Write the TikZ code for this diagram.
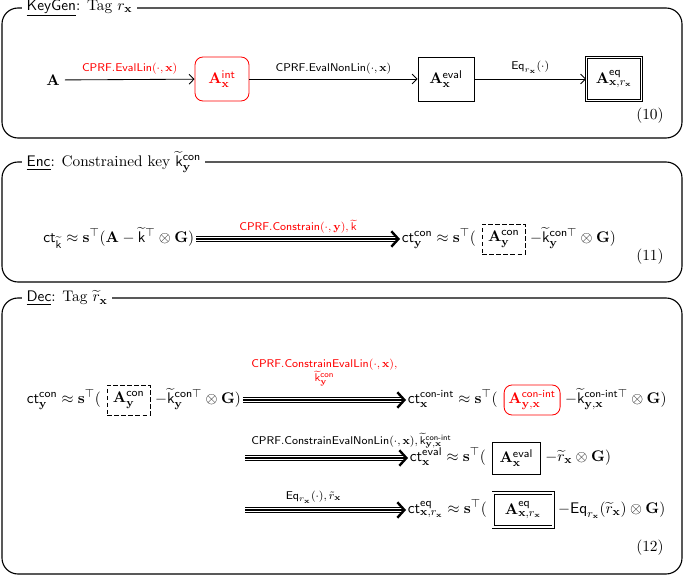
\documentclass[tikz,border=0pt]{standalone}
\usepackage{amsmath}
\usepackage{amssymb}
\usetikzlibrary{arrows.meta,positioning}

\begin{document}
\begin{tikzpicture}[x=0.025cm,y=-0.025cm,semithick,font=\fontsize{10.9}{13}\selectfont,
    panel/.style={draw,thick,rounded corners=0.4cm},
    title/.style={fill=white,anchor=west,inner sep=3pt},
    lbl/.style={font=\fontsize{8.2}{10}\selectfont,above},
    eqn/.style={inner sep=1pt,text height=9pt,text depth=4pt},
    box/.style={draw,line width=0.6pt,inner sep=3pt,minimum height=0.75cm},
    redbox/.style={box,red,rounded corners=0.2cm},
    dashbox/.style={box,dash pattern=on 3pt off 2pt},
    eqbox/.style={box,line width=0.5pt,double,double distance=1.2pt},
    arr/.style={-{Straight Barb[length=3.5pt,width=7pt]}},
    tri/.style={draw,line width=0.8pt,double,double distance=2.4pt,shorten >=3pt},
    mid/.style={line width=0.8pt,-{Straight Barb[length=5pt,width=11pt,line width=1.7pt]}}]
  \useasboundingbox (0,0) rectangle (685,576);

  \draw[panel] (2,8) rectangle (682,138);
  \node[title] (kg) at (22,8) {\underline{\textsf{KeyGen}}: Tag $r_{\mathbf{x}}$};
  \node (A) at (53,80) {$\mathbf{A}$};
  \node[redbox,minimum width=1.35cm,minimum height=1.1cm] (Aint) at (222,79) {$\mathbf{A}^{\mathsf{int}}_{\mathbf{x}}$};
  \node[box,minimum width=1.4cm,minimum height=1.1cm] (Aeval) at (446,79) {$\mathbf{A}^{\mathsf{eval}}_{\mathbf{x}}$};
  \node[eqbox,minimum width=1.38cm,minimum height=1.08cm] (Aeq) at (614,79) {$\mathbf{A}^{\mathsf{eq}}_{\mathbf{x},r_{\mathbf{x}}}$};
  \path (A) edge[arr] node[lbl,red] {$\mathsf{CPRF.EvalLin}(\cdot,\mathbf{x})$} (Aint)
  (Aint) edge[arr] node[lbl] {$\mathsf{CPRF.EvalNonLin}(\cdot,\mathbf{x})$} (Aeval)
  (Aeval) edge[arr] node[lbl] {$\mathsf{Eq}_{r_{\mathbf{x}}}(\cdot)$} (Aeq);
  \node (n10) at (650,116) {$(10)$};

  \draw[panel] (2,162) rectangle (682,282);
  \node[title] (enc) at (22,162) {\underline{\textsf{Enc}}: Constrained key $\widetilde{\mathsf{k}}^{\mathsf{con}}_{\mathbf{y}}$};
  \node[eqn,anchor=east] (ctk) at (196,239) {$\mathsf{ct}_{\widetilde{\mathsf{k}}}\approx\mathbf{s}^{\top}(\mathbf{A}-\widetilde{\mathsf{k}}^{\top}\otimes\mathbf{G})$};
  \node[eqn,anchor=west] (ctcon) at (400,239) {$\mathsf{ct}^{\mathsf{con}}_{\mathbf{y}}\approx\mathbf{s}^{\top}($};
  \node[dashbox,minimum width=1.07cm,right=3pt of ctcon] (Acon) {$\mathbf{A}^{\mathsf{con}}_{\mathbf{y}}$};
  \node[eqn,right=2pt of Acon] (kcon) {$-\widetilde{\mathsf{k}}^{\mathsf{con}\top}_{\mathbf{y}}\otimes\mathbf{G})$};
  \draw[tri] (ctk) -- (ctcon);
  \draw[mid] (ctk) -- node[lbl,red] {$\mathsf{CPRF.Constrain}(\cdot,\mathbf{y}),\widetilde{\mathsf{k}}$} (ctcon);
  \node (n11) at (650,257) {$(11)$};

  \draw[panel] (2,298) rectangle (682,574);
  \node[title] (dec) at (22,298) {\underline{\textsf{Dec}}: Tag $\widetilde{r}_{\mathbf{x}}$};
  \node[eqn,anchor=west] (ctcon2) at (25,400) {$\mathsf{ct}^{\mathsf{con}}_{\mathbf{y}}\approx\mathbf{s}^{\top}($};
  \node[dashbox,minimum width=1.07cm,right=3pt of ctcon2] (Acon2) {$\mathbf{A}^{\mathsf{con}}_{\mathbf{y}}$};
  \node[eqn,right=2pt of Acon2] (kcon2) {$-\widetilde{\mathsf{k}}^{\mathsf{con}\top}_{\mathbf{y}}\otimes\mathbf{G})$};
  \node[eqn,anchor=west] (ctci) at (406,400) {$\mathsf{ct}^{\textsf{con-int}}_{\mathbf{x}}\approx\mathbf{s}^{\top}($};
  \node[redbox,minimum width=1.4cm,right=3pt of ctci] (Aci) {$\mathbf{A}^{\textsf{con-int}}_{\mathbf{y},\mathbf{x}}$};
  \node[eqn,right=2pt of Aci] (kci) {$-\widetilde{\mathsf{k}}^{\textsf{con-int}\top}_{\mathbf{y},\mathbf{x}}\otimes\mathbf{G})$};
  \draw[tri] (kcon2) -- (ctci);
  \draw[mid] (kcon2) -- node[lbl,red,align=center,yshift=6pt] {$\mathsf{CPRF.ConstrainEvalLin}(\cdot,\mathbf{x}),$\\$\widetilde{\mathsf{k}}^{\mathsf{con}}_{\mathbf{y}}$} (ctci);

  \coordinate (s2) at (245,458);
  \node[eqn,anchor=west] (ctev) at (408,458) {$\mathsf{ct}^{\mathsf{eval}}_{\mathbf{x}}\approx\mathbf{s}^{\top}($};
  \node[box,minimum width=1.2cm,minimum height=0.8cm,right=3pt of ctev] (Aev2) {$\mathbf{A}^{\mathsf{eval}}_{\mathbf{x}}$};
  \node[eqn,right=2pt of Aev2] (rx) {$-\widetilde{r}_{\mathbf{x}}\otimes\mathbf{G})$};
  \draw[tri] (s2) -- (ctev);
  \draw[mid] (s2) -- node[lbl,xshift=0.62cm,yshift=3pt] {$\mathsf{CPRF.ConstrainEvalNonLin}(\cdot,\mathbf{x}),\widetilde{\mathsf{k}}^{\textsf{con-int}}_{\mathbf{y},\mathbf{x}}$} (ctev);

  \coordinate (s3) at (245,510);
  \node[eqn,anchor=west] (cteq) at (406,510) {$\mathsf{ct}^{\mathsf{eq}}_{\mathbf{x},r_{\mathbf{x}}}\approx\mathbf{s}^{\top}($};
  \node[eqbox,minimum width=1.5cm,minimum height=0.85cm,right=3pt of cteq] (Aeq2) {$\mathbf{A}^{\mathsf{eq}}_{\mathbf{x},r_{\mathbf{x}}}$};
  \node[eqn,right=2pt of Aeq2] (eqr) {$-\mathsf{Eq}_{r_{\mathbf{x}}}(\widetilde{r}_{\mathbf{x}})\otimes\mathbf{G})$};
  \draw[tri] (s3) -- (cteq);
  \draw[mid] (s3) -- node[lbl,xshift=-0.3cm,yshift=1pt] {$\mathsf{Eq}_{r_{\mathbf{x}}}(\cdot),\tilde{r}_{\mathbf{x}}$} (cteq);
  \node (n12) at (650,548) {$(12)$};
\end{tikzpicture}
\end{document}
